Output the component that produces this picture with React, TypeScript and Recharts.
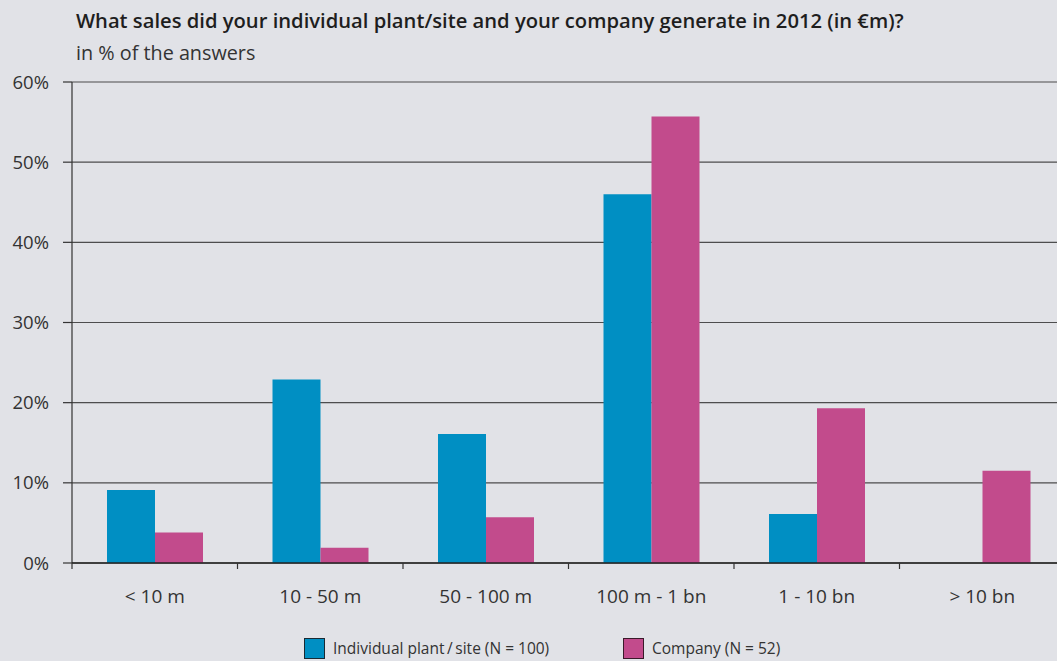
import React from 'react';
import { BarChart, Bar, XAxis, YAxis, CartesianGrid } from 'recharts';

const categories = ['< 10 m', '10 - 50 m', '50 - 100 m', '100 m - 1 bn', '1 - 10 bn', '> 10 bn'];
const plantValues = [9.1, 22.9, 16.1, 46.0, 6.1, 0];
const companyValues = [3.8, 1.9, 5.7, 55.7, 19.3, 11.5];
const yTicks = [0, 10, 20, 30, 40, 50, 60];

const BLUE = '#008fc3';
const PINK = '#c24b8c';
const BG = '#e1e2e7';
const INK = '#333333';
const FONT = '"Open Sans", "DejaVu Sans", sans-serif';

const CHART_W = 1065;
const Y_AXIS_W = 72;
const STEP = (CHART_W - Y_AXIS_W) / categories.length;

const data = categories.map((name, i) => ({
    name,
    plant: plantValues[i],
    company: companyValues[i],
}));

function CategoryTick(props: any) {
    const { x, y, payload, index } = props;
    const left = x - STEP / 2;
    return (
        <g>
            <line x1={left} x2={left} y1={y - 6} y2={y} stroke={INK} strokeWidth={1.2} />
            {index === categories.length - 1 && (
                <line x1={x + STEP / 2} x2={x + STEP / 2} y1={y - 6} y2={y} stroke={INK} strokeWidth={1.2} />
            )}
            <text x={x} y={y + 34} textAnchor="middle" fill={INK} fontSize={19} fontFamily={FONT}>
                {payload.value}
            </text>
        </g>
    );
}

export default function App() {
    return (
        <div style={{ position: 'fixed', left: 0, top: 0, width: 1057, height: 661, overflow: 'hidden', background: BG, fontFamily: FONT, color: '#222' }}>
            <div style={{ position: 'absolute', left: 76, top: 6, fontSize: 20.2, fontWeight: 600, color: '#1e1e1e' }}>
                What sales did your individual plant/site and your company generate in 2012 (in €m)?
            </div>
            <div style={{ position: 'absolute', left: 76, top: 39, fontSize: 19.8, color: INK }}>
                in % of the answers
            </div>
            <div style={{ position: 'absolute', left: 0, top: 0 }}>
                <BarChart
                    width={CHART_W}
                    height={661}
                    data={data}
                    margin={{ top: 82, right: 0, left: 0, bottom: 0 }}
                    barCategoryGap={35}
                    barGap={0}
                >
                    <CartesianGrid horizontal vertical={false} stroke={INK} strokeWidth={1.2} strokeOpacity={0.85} />
                    <YAxis
                        width={Y_AXIS_W}
                        domain={[0, 60]}
                        ticks={yTicks}
                        interval={0}
                        tickFormatter={(v: number) => `${v}%`}
                        axisLine={{ stroke: INK, strokeWidth: 1.2 }}
                        tickLine={{ stroke: INK, strokeWidth: 1.2 }}
                        tickSize={9}
                        tickMargin={14}
                        tick={{ fill: INK, fontSize: 18.5, fontFamily: FONT }}
                    />
                    <XAxis
                        dataKey="name"
                        height={98}
                        interval={0}
                        tickSize={6}
                        tickMargin={0}
                        tickLine={false}
                        axisLine={{ stroke: '#222', strokeWidth: 1.4 }}
                        tick={<CategoryTick />}
                    />
                    <Bar dataKey="plant" fill={BLUE} isAnimationActive={false} />
                    <Bar dataKey="company" fill={PINK} isAnimationActive={false} />
                </BarChart>
            </div>
            <div style={{ position: 'absolute', top: 637, left: 304, display: 'flex', alignItems: 'center', fontSize: 15.5, color: INK }}>
                <span style={{ width: 19, height: 19, background: BLUE, border: '1px solid #1a2a33', display: 'inline-block', marginRight: 8 }} />
                Individual plant{'\u2009/\u2009'}site (N = 100)
            </div>
            <div style={{ position: 'absolute', top: 637, left: 623, display: 'flex', alignItems: 'center', fontSize: 15.5, color: INK }}>
                <span style={{ width: 19, height: 19, background: PINK, border: '1px solid #3a1a2a', display: 'inline-block', marginRight: 8 }} />
                Company (N = 52)
            </div>
        </div>
    );
}
